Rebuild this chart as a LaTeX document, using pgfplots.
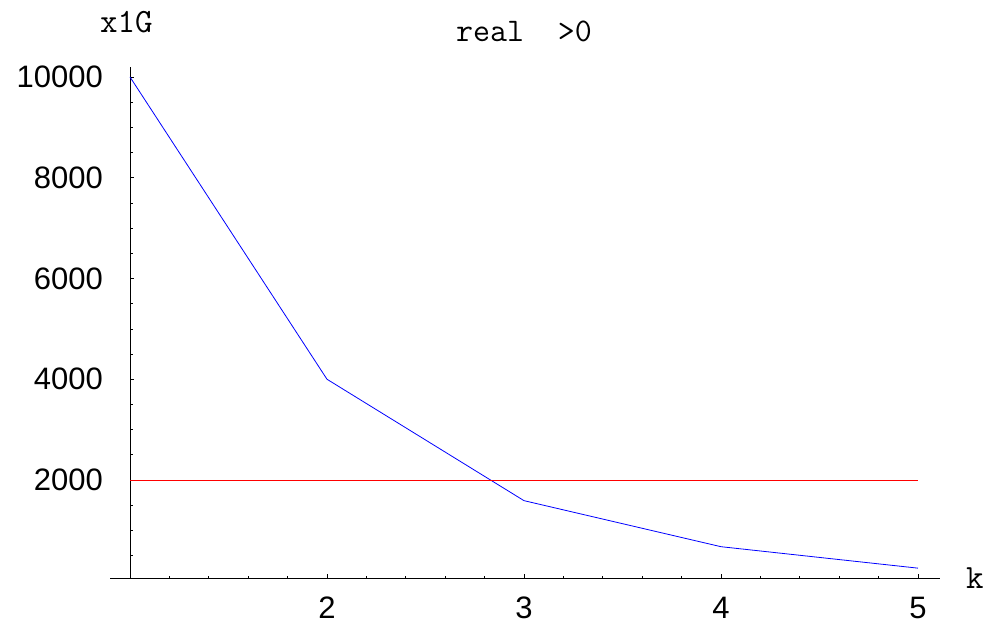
\documentclass[border=0pt]{standalone}
\usepackage{fontspec}
\setmainfont{Liberation Sans}
\usepackage{pgfplots}
\pgfplotsset{compat=1.18}
\begin{document}
\begin{tikzpicture}
\path[use as bounding box] (0,0) rectangle (1003pt,624pt);
\begin{axis}[
 at={(130pt,46pt)}, anchor=south west,
 scale only axis, width=810pt, height=511pt,
 xmin=1, xmax=5.1117, ymin=54.6, ymax=10198.5,
 axis x line=bottom, axis y line=left,
 axis line style={-, black, line width=0.9pt},
 x axis line style={shorten <=-20pt},
 tick align=inside,
 major tick length=4pt, minor tick length=2.5pt,
 xtick={2,3,4,5},
 minor xtick={1.2,1.4,1.6,1.8,2.2,2.4,2.6,2.8,3.2,3.4,3.6,3.8,4.2,4.4,4.6,4.8},
 ytick={2000,4000,6000,8000,10000},
 minor ytick={500,1000,1500,2500,3000,3500,4500,5000,5500,6500,7000,7500,8500,9000,9500},
 scaled ticks=false,
 tick style={black, line width=0.7pt},
 ticklabel style={font=\fontsize{31}{36}\selectfont, inner sep=0pt},
 /pgf/number format/assume math mode=true,
 /pgf/number format/1000 sep={},
 xticklabel style={anchor=north, yshift=-19pt},
 yticklabel style={anchor=east, xshift=-27pt},
 clip=false,
]
\addplot[blue, line width=0.8pt] coordinates {(1,10000) (2,4000) (3,1590) (4,676) (5,250)};
\addplot[red, line width=0.8pt] coordinates {(1,2000) (5,2000)};
\end{axis}
\node[anchor=base, font=\ttfamily\fontsize{33}{38}\selectfont] at (524pt,582pt) {real\ \ >0};
\node[anchor=base west, inner sep=0pt, font=\ttfamily\fontsize{34}{38}\selectfont] at (100pt,591pt) {x1G};
\node[anchor=base west, inner sep=0pt, font=\ttfamily\fontsize{34}{38}\selectfont] at (966pt,36pt) {k};
\end{tikzpicture}
\end{document}
